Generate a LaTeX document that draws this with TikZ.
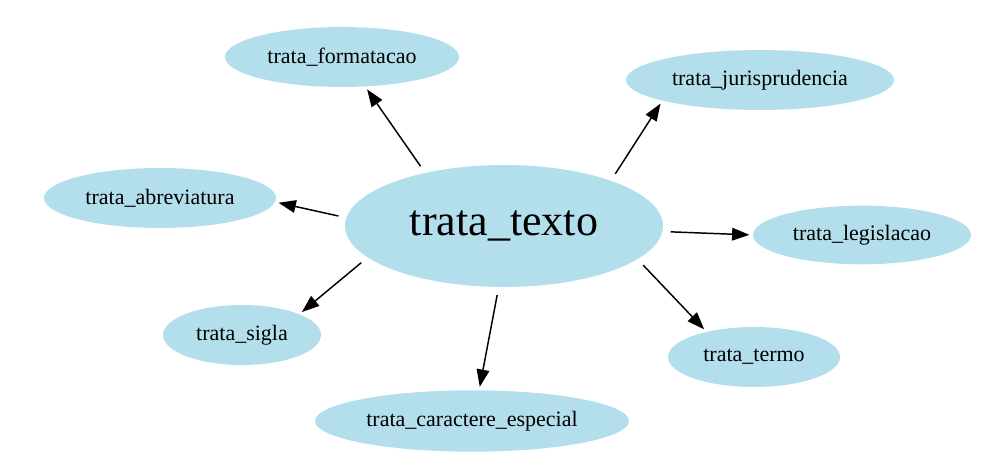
\documentclass[tikz,border=0pt]{standalone}
\usepackage{fontspec}
\setmainfont{Liberation Serif}
\usepackage{tikz}
\usetikzlibrary{arrows.meta, positioning, shapes.geometric}

\definecolor{nodeblue}{HTML}{B3DEEC}

\begin{document}
\begin{tikzpicture}[x=0.75pt, y=-0.75pt,
    func/.style={draw=none, fill=nodeblue, ellipse, inner sep=0pt, minimum height=45pt, font=\fontsize{16.5}{18}\selectfont},
    call/.style={-{Triangle[length=13pt, width=9.5pt]}, line width=1.1pt, shorten <=6pt, shorten >=2.5pt}]
        \useasboundingbox (0,0) rectangle (992,459);
        % Call graph of trata_texto
        \node[func, minimum width=238.5pt, minimum height=91.5pt, font=\fontsize{33}{36}\selectfont] (texto) at (504,226) {trata\_texto};
        \node[func, minimum width=175.5pt] (formatacao) at (342,57) {trata\_formatacao};
        \node[func, minimum width=201pt] (juris) at (760,80) {trata\_jurisprudencia};
        \node[func, minimum width=174pt] (abrev) at (160,198) {trata\_abreviatura};
        \node[func, minimum width=163.5pt, minimum height=44pt] (legis) at (862,235) {trata\_legislacao};
        \node[func, minimum width=118.5pt] (sigla) at (242,335) {trata\_sigla};
        \node[func, minimum width=129pt] (termo) at (754,357) {trata\_termo};
        \node[func, minimum width=235.5pt, minimum height=46pt] (especial) at (472,421) {trata\_caractere\_especial};

        \draw[call] (texto.146) -- (formatacao.-52);
        \draw[call] (texto.23) -- (juris.192);
        \draw[call] (texto.177) -- (abrev.-2);
        \draw[call] (texto.-2) -- (legis.180);
        \draw[call] (texto.-167) -- (sigla.20);
        \draw[call] (texto.-14.5) -- (termo.152);
        \draw[call] (texto.-95) -- (especial.77);
    \end{tikzpicture}
\end{document}
